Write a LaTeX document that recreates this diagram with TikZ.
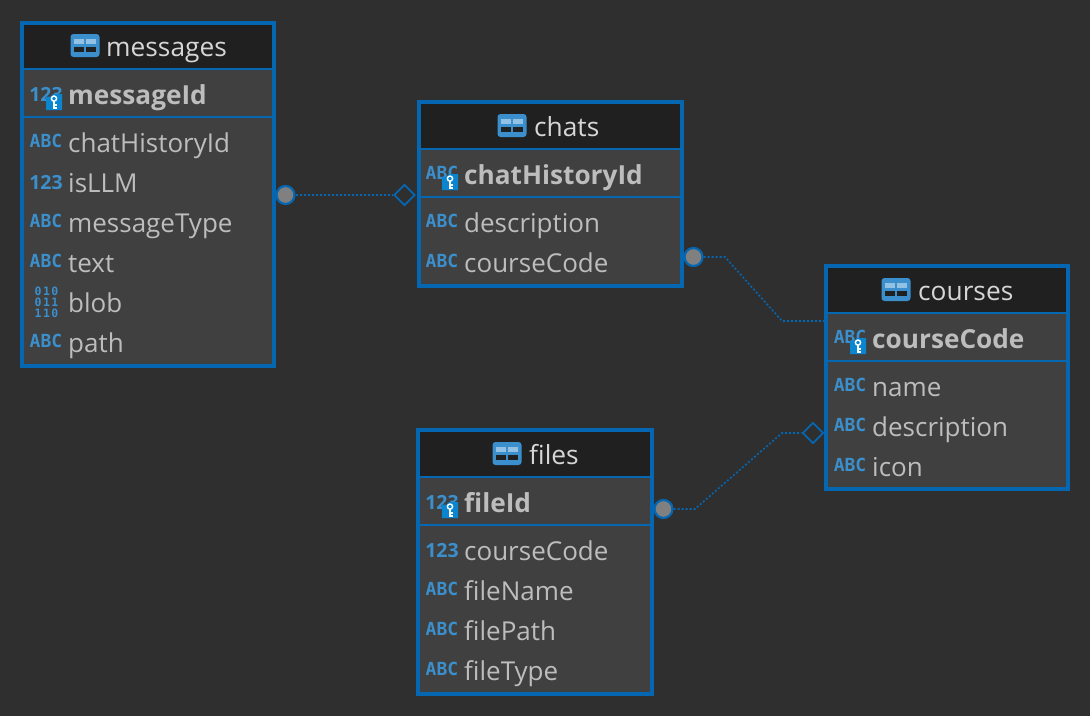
\documentclass[tikz,border=0pt]{standalone}
\usepackage{fontspec}
\setmainfont{Open Sans}
\newfontfamily\iconfont{DejaVu Sans Mono}
\newfontfamily\binfont{DejaVu Sans Mono}[LetterSpace=12]
\usetikzlibrary{shapes.geometric}
\definecolor{bgc}{HTML}{2F2F2F}
\definecolor{bodyc}{HTML}{404040}
\definecolor{headc}{HTML}{202020}
\definecolor{edgec}{HTML}{0566B2}
\definecolor{iconc}{HTML}{3A8FCC}
\definecolor{textc}{HTML}{BDBDBD}
\definecolor{titlec}{HTML}{D6D6D6}
\definecolor{keyc}{HTML}{0A86D0}
\definecolor{endc}{HTML}{808080}
\tikzset{
  bodybox/.style={draw=edgec,line width=4pt,fill=bodyc},
  headbox/.style={fill=headc},
  rule/.style={draw=edgec,line width=1.6pt},
  fieldtxt/.style={anchor=base west,inner sep=0pt,font=\fontsize{26}{26}\selectfont,text=textc},
  keytxt/.style={fieldtxt,font=\fontsize{26.2}{26.2}\selectfont\bfseries},
  titletxt/.style={anchor=base west,inner sep=0pt,font=\fontsize{26.3}{26.3}\selectfont,text=titlec},
  typetxt/.style={anchor=base,inner sep=0pt,text=iconc,font=\iconfont\fontsize{18}{18}\selectfont\bfseries},
  numtxt/.style={anchor=base,inner sep=0pt,text=iconc,font=\fontsize{19.5}{19.5}\selectfont\bfseries},
  bintxt/.style={anchor=base,inner sep=0pt,text=iconc,font=\binfont\fontsize{11.5}{11.5}\selectfont\bfseries},
  link/.style={draw=edgec,line width=1.6pt,dash pattern=on 2pt off 2pt},
  roundend/.style={circle,draw=edgec,line width=2.2pt,fill=endc,minimum size=18pt,inner sep=0pt},
  diamondend/.style={diamond,draw=edgec,line width=1.8pt,fill=bgc,minimum size=21pt,inner sep=0pt,aspect=1},
}
% table icon, centred at (#1,#2)
\newcommand{\tableicon}[2]{%
  \begin{scope}[shift={(#1,#2)}]
    \fill[iconc,rounded corners=3pt] (-14.5,-11.5) rectangle (14.5,11.5);
    \fill[iconc!55!white] (-11,-7) rectangle (-1,-2);
    \fill[iconc!55!white] (1,-7) rectangle (11,-2);
    \fill[headc] (-11,1.5) rectangle (-1,6.5);
    \fill[headc] (1,1.5) rectangle (11,6.5);
  \end{scope}}
% key badge whose top-left corner is at (#1,#2)
\newcommand{\keybadge}[2]{%
  \begin{scope}[shift={(#1,#2)}]
    \fill[keyc] (0,2.5) -- (4.5,2.5) -- (7,0) -- (16,0) -- (16,16) -- (0,16) -- cycle;
    \draw[white,line width=1.4pt] (8,4.6) circle (2.6);
    \draw[white,line width=1.6pt] (8,7.4) -- (8,14.5) (8,11) -- (11,11) (8,14) -- (11,14);
  \end{scope}}
\newcommand{\abcfield}[5]{\node[typetxt] (#1t) at (#2+39,#3+4) {ABC};\node[fieldtxt] (#1) at (#2+61,#3+9.5) {#5};}
\begin{document}
\begin{tikzpicture}[x=1pt,y=-1pt]
\useasboundingbox (0,0) rectangle (1090,716);
\fill[bgc] (0,0) rectangle (1090,716);

% ---------- messages
\path[bodybox] (22,23) rectangle (274,366);
\fill[headc] (24,25) rectangle (272,68);
\draw[rule] (24,69) -- (272,69);
\draw[rule] (24,117) -- (272,117);
\tableicon{85}{45.5}
\node[titletxt] (mTitle) at (106,56.5) {messages};
\node[numtxt] (mKeyT) at (46,101) {123};
\keybadge{46}{94}
\node[keytxt] (mKey) at (68,104.5) {messageId};
\abcfield{mA}{7}{143}{}{chatHistoryId}
\node[numtxt] (mBt) at (46,189) {123};
\node[fieldtxt] (mB) at (68,192.5) {isLLM};
\abcfield{mC}{7}{223}{}{messageType}
\abcfield{mD}{7}{263}{}{text}
\node[bintxt] (mEa) at (46.5,295) {010};
\node[bintxt] (mEb) at (46.5,306) {011};
\node[bintxt] (mEc) at (46.5,317) {110};
\node[fieldtxt] (mE) at (68,312.5) {blob};
\abcfield{mF}{7}{343}{}{path}

% ---------- chats
\path[bodybox] (419,102) rectangle (682,286);
\fill[headc] (421,104) rectangle (680,148);
\draw[rule] (421,149) -- (680,149);
\draw[rule] (421,197) -- (680,197);
\tableicon{512}{125.5}
\node[titletxt] (cTitle) at (534,136.5) {chats};
\abcfield{cKt}{403}{175}{}{}
\keybadge{442}{174}
\node[keytxt] (cKey) at (464,184.5) {chatHistoryId};
\abcfield{cA}{403}{223}{}{description}
\abcfield{cB}{403}{263}{}{courseCode}

% ---------- courses
\path[bodybox] (826,266) rectangle (1068,489);
\fill[headc] (828,268) rectangle (1066,312);
\draw[rule] (828,313) -- (1066,313);
\draw[rule] (828,361) -- (1066,361);
\tableicon{896}{289.5}
\node[titletxt] (oTitle) at (918,300.5) {courses};
\abcfield{oKt}{811}{339}{}{}
\keybadge{850}{338}
\node[keytxt] (oKey) at (872,348.5) {courseCode};
\abcfield{oA}{811}{387}{}{name}
\abcfield{oB}{811}{427}{}{description}
\abcfield{oC}{811}{467}{}{icon}

% ---------- files
\path[bodybox] (418,430) rectangle (652,694);
\fill[headc] (420,432) rectangle (650,476);
\draw[rule] (420,477) -- (650,477);
\draw[rule] (420,525) -- (650,525);
\tableicon{507}{453.5}
\node[titletxt] (fTitle) at (529,464.5) {files};
\node[numtxt] (fKt) at (442,509) {123};
\keybadge{442}{502}
\node[keytxt] (fKey) at (464,512.5) {fileId};
\node[numtxt] (fAt) at (442,557) {123};
\node[fieldtxt] (fA) at (464,560.5) {courseCode};
\abcfield{fB}{403}{591}{}{fileName}
\abcfield{fC}{403}{631}{}{filePath}
\abcfield{fD}{403}{671}{}{fileType}

% ---------- connectors
\node[diamondend] (d1) at (404.5,195) {};
\node[roundend] (r1) at (285.5,195) {};
\draw[link] (r1) -- (d1);

\node[roundend] (r2) at (693.5,257) {};
\coordinate (b2a) at (725,257);
\coordinate (b2b) at (782,321);
\coordinate (e2) at (824,321);
\draw[link] (r2) -- (b2a) -- (b2b) -- (e2);

\node[roundend] (r3) at (663.5,509) {};
\node[diamondend] (d3) at (813,433) {};
\coordinate (b3a) at (695,509);
\coordinate (b3b) at (782,433);
\draw[link] (r3) -- (b3a) -- (b3b) -- (d3);
\end{tikzpicture}
\end{document}
